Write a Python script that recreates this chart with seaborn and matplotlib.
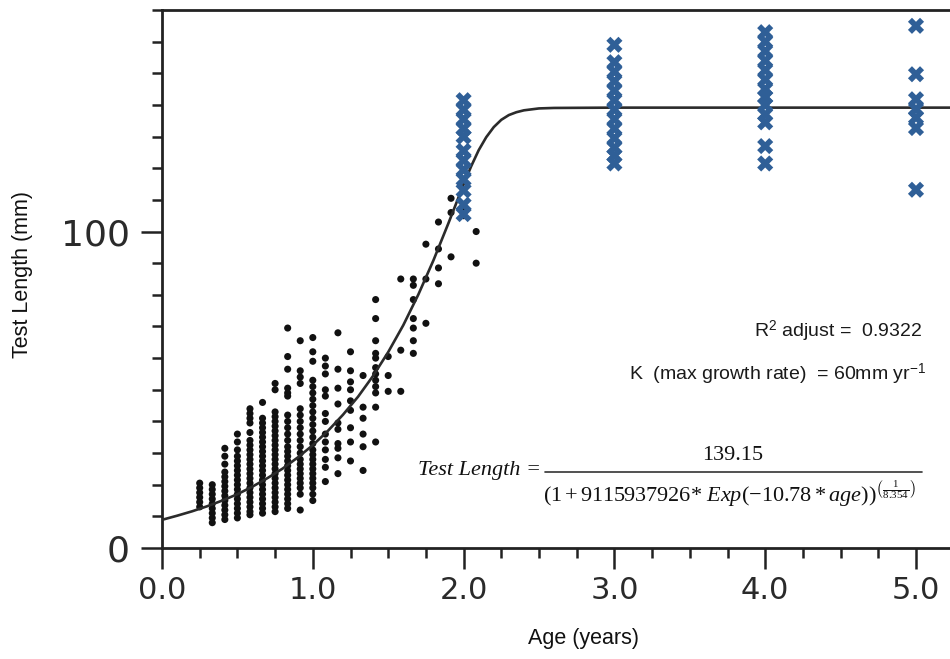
import matplotlib
matplotlib.use("Agg")
import matplotlib.pyplot as plt
from matplotlib.lines import Line2D
from matplotlib.ticker import MultipleLocator, FixedLocator
import pandas as pd
import seaborn as sns

# ---------------- data ----------------
# juvenile test lengths (mm), one column per age in months
len_m03 = [13.0, 14.5, 16.0, 17.5, 19.0, 20.5]
len_m04 = [8.0, 9.5, 11.0, 12.5, 14.0, 15.5, 17.0, 18.5, 20.0]
len_m05 = [31.5, 29.0, 26.5, 24.0, 22.5, 21.0, 19.5, 18.0, 16.5, 15.0, 13.5, 12.0, 10.5, 9.0]
len_m06 = [36.0, 33.5, 31.0, 29.0, 27.5, 26.0, 24.5, 23.0, 21.5, 20.0, 18.5, 17.0, 15.5, 14.0, 12.5, 11.0, 9.5]
len_m07 = [44.0, 42.5, 41.0, 39.5, 36.5, 34.0, 32.5, 31.0, 29.5, 28.0, 26.5, 25.0, 23.5, 22.0,
           20.5, 19.0, 17.5, 16.0, 14.5, 13.0, 11.5, 10.5]
len_m08 = [46.0, 41.0, 39.5, 38.0, 36.5, 35.0, 33.5, 32.0, 30.5, 29.0, 27.5, 26.0, 24.5, 23.0,
           21.5, 20.0, 18.5, 17.0, 15.5, 14.0, 12.5, 11.0]
len_m09 = [52.0, 50.0, 43.0, 41.5, 40.0, 38.5, 37.0, 35.5, 34.0, 32.5, 31.0, 29.5, 28.0, 26.5,
           25.0, 23.5, 22.0, 20.5, 19.0, 17.5, 16.0, 14.5, 13.0, 11.5]
len_m10 = [69.5, 60.5, 56.5, 50.5, 49.0, 48.0, 42.0, 40.0, 38.0, 36.0, 34.0, 32.0, 30.5, 29.0,
           27.5, 26.0, 24.5, 23.0, 21.5, 20.0, 18.5, 17.0, 15.5, 14.0, 12.5]
len_m11 = [65.5, 56.0, 54.0, 52.0, 44.0, 42.0, 40.0, 38.0, 36.0, 34.0, 32.0, 30.0, 28.0, 26.5,
           25.0, 23.5, 22.0, 20.5, 19.0, 17.0, 12.0]
len_m12 = [66.5, 62.0, 59.0, 53.0, 51.0, 49.0, 47.0, 45.0, 43.0, 41.0, 39.0, 37.0, 35.0, 33.0,
           31.0, 29.5, 28.0, 26.5, 25.0, 23.5, 22.0, 20.5, 19.0, 17.0, 15.0]
len_m13 = [60.0, 57.5, 55.0, 50.0, 48.0, 42.5, 40.0, 36.0, 33.5, 31.0, 28.0, 25.5, 21.0]
len_m14 = [68.0, 56.5, 50.5, 45.5, 39.5, 37.5, 33.0, 31.5, 28.5, 23.5]
len_m15 = [62.0, 56.0, 52.5, 50.0, 46.5, 43.5, 38.0, 33.5, 27.5]
len_m16 = [54.5, 44.5, 41.0, 36.0, 32.0, 24.5]
len_m17 = [78.5, 72.5, 65.5, 61.5, 60.0, 57.0, 55.0, 53.0, 51.0, 49.0, 44.5, 33.5]
len_m18 = [60.5, 54.5, 49.5]
len_m19 = [85.0, 62.5, 49.5]
len_m20 = [85.0, 83.0, 78.5, 72.5, 69.5, 65.5, 61.5]
len_m21 = [96.0, 85.0, 71.0]
len_m22 = [103.0, 94.5, 88.5, 83.5]
len_m23 = [110.5, 106.0, 92.0]
len_m24 = [107.0, 105.0]
len_m25 = [100.0, 90.0]

juvenile_months = list(range(3, 26))
juvenile_lengths = [len_m03, len_m04, len_m05, len_m06, len_m07, len_m08, len_m09, len_m10,
                    len_m11, len_m12, len_m13, len_m14, len_m15, len_m16, len_m17, len_m18,
                    len_m19, len_m20, len_m21, len_m22, len_m23, len_m24, len_m25]

# adult test lengths (mm), blue crosses
adult_ages = [2.0, 3.0, 4.0, 5.0]
adult_age2 = [141.5, 138.5, 135.5, 132.5, 130.0, 125.5, 122.5, 119.5, 116.5, 113.0, 108.5, 105.5]
adult_age3 = [159.0, 153.5, 150.5, 147.5, 144.5, 141.5, 138.5, 135.5, 132.5, 129.5, 126.5, 124.0, 121.5]
adult_age4 = [163.0, 160.0, 157.0, 154.0, 151.0, 148.0, 145.0, 142.5, 140.0, 137.0, 134.5, 127.0, 121.5]
adult_age5 = [165.0, 149.7, 141.8, 138.7, 136.0, 132.7, 113.2]
adult_lengths = [adult_age2, adult_age3, adult_age4, adult_age5]

# fitted growth curve
curve_age = [0.0, 0.1, 0.2, 0.3, 0.4, 0.5, 0.6, 0.7, 0.8, 0.9, 1.0, 1.1, 1.2, 1.3, 1.4, 1.5,
             1.6, 1.7, 1.8, 1.9, 2.0, 2.05, 2.1, 2.15, 2.2, 2.25, 2.3, 2.35, 2.4, 2.5, 2.6,
             2.8, 3.0, 5.25]
curve_length = [8.9, 10.2, 11.6, 13.2, 15.0, 17.0, 19.4, 22.1, 25.1, 28.6, 32.5, 37.0, 42.1,
                47.8, 54.4, 61.9, 70.4, 80.1, 90.9, 102.7, 114.9, 120.6, 125.7, 129.8, 133.0,
                135.3, 136.8, 137.7, 138.3, 138.9, 139.05, 139.1, 139.15, 139.15]

x_ticks = [0, 1, 2, 3, 4, 5]
x_tick_labels = ["0.0", "1.0", "2.0", "3.0", "4.0", "5.0"]
y_ticks = [0, 100]
y_tick_labels = ["0", "100"]

# ---------------- tables ----------------
juv_rows = []
for m, vals in zip(juvenile_months, juvenile_lengths):
    for v in vals:
        juv_rows.append({"age": m / 12.0, "length": v})
juv_df = pd.DataFrame(juv_rows)

ad_rows = []
for a, vals in zip(adult_ages, adult_lengths):
    for v in vals:
        ad_rows.append({"age": a, "length": v})
ad_df = pd.DataFrame(ad_rows)

curve_df = pd.DataFrame({"age": curve_age, "length": curve_length})

# ---------------- style ----------------
sns.set_theme(style="ticks")
plt.rcParams.update({
    "font.family": ["DejaVu Sans"],
    "mathtext.fontset": "custom",
    "mathtext.rm": "Liberation Serif",
    "mathtext.it": "Liberation Serif:italic",
    "mathtext.bf": "Liberation Serif:bold",
    "mathtext.sf": "Liberation Sans",
    "axes.linewidth": 2.0,
})

W, H = 950, 659
fig = plt.figure(figsize=(W / 100, H / 100), dpi=100)
fig.patch.set_facecolor("white")

left_px, right_px, top_px, bottom_px = 162, 950, 10, 548
ax = fig.add_axes([left_px / W, 1 - bottom_px / H, (right_px - left_px) / W,
                   (bottom_px - top_px) / H])

ink = "#222222"
sns.scatterplot(data=juv_df, x="age", y="length", ax=ax, marker="o", s=26,
                color="#111111", edgecolor="none", linewidth=0, legend=False, zorder=2)
sns.lineplot(data=curve_df, x="age", y="length", ax=ax, color="#2b2b2b", linewidth=1.9,
             sort=False, estimator=None, legend=False, zorder=3)
sns.scatterplot(data=ad_df, x="age", y="length", ax=ax, marker="X", s=135,
                color="#2F5F97", edgecolor="none", linewidth=0, legend=False, zorder=4)

ax.set_xlim(0, (right_px - left_px) / 150.8)
ax.set_ylim(0, 170)

ax.xaxis.set_major_locator(FixedLocator(x_ticks))
ax.set_xticks(x_ticks, x_tick_labels)
ax.xaxis.set_minor_locator(MultipleLocator(0.25))
ax.set_yticks(y_ticks, y_tick_labels)
ax.yaxis.set_minor_locator(MultipleLocator(10))

ax.tick_params(which="major", length=15, width=1.8, color=ink, direction="out")
ax.tick_params(which="minor", length=7.5, width=1.8, color=ink, direction="out")
ax.tick_params(axis="y", which="major", labelsize=26, pad=8, labelcolor="#2a2a2a")
ax.tick_params(axis="x", which="major", labelsize=22, pad=5, labelcolor="#2a2a2a")

for side in ["left", "top", "bottom"]:
    ax.spines[side].set_color(ink)
    ax.spines[side].set_linewidth(2.0)
ax.spines["right"].set_visible(False)

ax.set_xlabel("Age (years)", family="Liberation Sans", fontsize=15.5, color="#111111")
ax.set_ylabel("Test Length (mm)", family="Liberation Sans", fontsize=15.5, color="#111111")
axw = right_px - left_px
axh = bottom_px - top_px
ax.xaxis.set_label_coords((583 - left_px) / axw, (bottom_px - 628) / axh)
ax.yaxis.set_label_coords((33 - left_px) / axw, (bottom_px - 275) / axh)


def fx(px):
    return px / W


def fy(py):
    return 1 - py / H


# statistics text
fig.text(fx(922), fy(331), r"R$^{\mathsf{2}}$ adjust =  0.9322", ha="right", va="center",
         family="Liberation Sans", fontsize=14, color="#1a1a1a")
fig.text(fx(926), fy(374), r"K  (max growth rate)  = 60mm yr$^{\mathsf{-1}}$", ha="right",
         va="center", family="Liberation Sans", fontsize=14, color="#1a1a1a")

# fitted equation
fig.text(fx(541), fy(471), "Test Length =", ha="right", va="center", family="Liberation Serif",
         style="italic", fontsize=16, color="#111111")
fig.text(fx(733), fy(455), "139.15", ha="center", va="center", family="Liberation Serif",
         fontsize=16, color="#111111")
fig.add_artist(Line2D([fx(545), fx(922)], [fy(472), fy(472)], color="#333333", linewidth=1.2))
fig.text(fx(729), fy(494),
         r"$(1+9115937926{*}\ \mathit{Exp}(-10.78*\mathit{age}))^{\left(\frac{1}{8.354}\right)}$",
         ha="center", va="center", fontsize=16, color="#111111")

fig.savefig("out.png", dpi=100, facecolor="white")
